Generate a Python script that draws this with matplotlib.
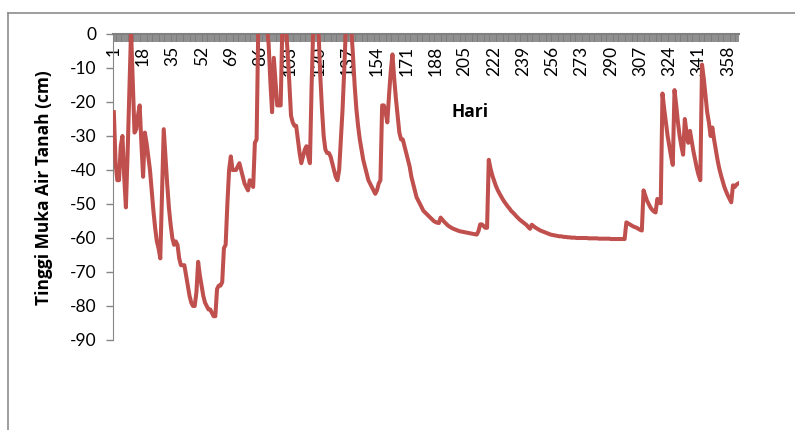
import numpy as np
import matplotlib
matplotlib.use("Agg")
import matplotlib.pyplot as plt
from matplotlib.lines import Line2D

plt.rcParams['font.family'] = ['Lato', 'DejaVu Sans']

# tinggi muka air tanah harian (cm), hari ke-1 s/d 365
tinggi = [
    -23, -38, -43, -43, -33, -30, -42, -51, -35, -17,
    1, -14, -29, -28, -24, -21, -32, -42, -29, -32,
    -36, -40, -46, -52, -57, -61, -63, -66, -47, -28,
    -36, -44, -51, -56, -60, -62, -61, -62, -66, -68,
    -68, -68, -71, -74, -77, -79, -80, -80, -76, -67,
    -71, -74, -77, -79, -80, -81, -81, -82, -83, -83,
    -75, -74, -74, -73, -63, -62, -50, -40, -36, -40,
    -40, -40, -39, -38, -40, -42, -44, -45, -46, -43,
    -44, -45, -32, -31, 3, 5, 4, 3, 3, 2,
    -3, -14, -23, -7, -14, -21, -21, -21, 3, 4,
    2, -5, -14, -24, -26, -27, -27, -31, -35, -38,
    -36, -34, -33, -36, -38, -15, 3, 4, 3, 1,
    -12, -22, -30, -34, -35, -35, -36, -38, -40, -42,
    -43, -40, -31, -22, -10, 3, 5, 5, 2, -6,
    -15, -22, -27, -31, -34, -37, -39, -41, -43, -44,
    -45, -46, -47, -46, -44, -43, -21, -21, -23, -26,
    -18, -11, -6, -13, -19, -24, -29, -31, -31, -33,
    -35, -37, -39, -42, -44, -46, -48, -49, -50, -51,
    -52, -52.5, -53, -53.5, -54, -54.5, -55, -55.3, -55.5, -55.6,
    -54, -54.6, -55.2, -55.7, -56.2, -56.6, -56.9, -57.2, -57.4, -57.6,
    -57.8, -58, -58.1, -58.2, -58.3, -58.4, -58.5, -58.6, -58.7, -58.8,
    -58.9, -59, -58, -56, -56, -56.5, -57, -57, -37, -39.5,
    -41.5, -43, -44.5, -45.7, -46.7, -47.6, -48.5, -49.3, -50, -50.7,
    -51.3, -52, -52.5, -53, -53.6, -54.1, -54.6, -55, -55.4, -55.8,
    -56.2, -56.8, -57.3, -56.1, -56.5, -56.9, -57.2, -57.5, -57.8, -58,
    -58.2, -58.4, -58.6, -58.8, -59, -59.1, -59.2, -59.3, -59.4, -59.5,
    -59.5, -59.6, -59.7, -59.7, -59.8, -59.8, -59.9, -59.9, -59.9, -60,
    -60, -60, -60, -60, -60, -60, -60.1, -60.1, -60.1, -60.1,
    -60.1, -60.1, -60.2, -60.2, -60.2, -60.2, -60.2, -60.2, -60.2, -60.3,
    -60.3, -60.3, -60.3, -60.3, -60.3, -60.3, -60.3, -60.3, -55.4, -55.7,
    -56, -56.3, -56.6, -56.8, -57, -57.3, -57.6, -57.8, -46, -47.5,
    -49, -50, -51, -51.7, -52.2, -52.5, -48.5, -49.5, -49.8, -17.5,
    -22, -26, -30, -33, -36, -38.5, -16.5, -21, -26, -30,
    -33, -35.5, -25, -29, -32, -28.5, -31.5, -34.5, -37, -39.5,
    -41.5, -43, -9, -13, -18, -23, -26, -30, -27.5, -31,
    -34, -37, -39.5, -41.5, -43.3, -45, -46.3, -47.5, -48.5, -49.5,
    -44.5, -45, -44.3, -44,
]
hari = np.arange(1, len(tinggi) + 1)
label_hari = np.arange(1, 366, 17)
y_ticks = np.arange(-90, 1, 10)

W, H = 795, 430
fig = plt.figure(figsize=(W / 100, H / 100), dpi=100)

# bingkai area grafik (kiri dan atas)
frame = dict(color='#8c8c8c', linewidth=1.2, transform=fig.transFigure)
fig.add_artist(Line2D([7.5 / W, 7.5 / W], [0, 1 - 12.5 / H], **frame))
fig.add_artist(Line2D([7.5 / W, 1], [1 - 12.5 / H, 1 - 12.5 / H], **frame))

ax = fig.add_axes([113 / W, 1 - 340 / H, (739 - 113) / W, (340 - 34) / H])

ax.plot(hari, tinggi, color='#C0504D', linewidth=2.9, zorder=5,
        solid_joinstyle='round')

ax.set_xlim(0.5, len(tinggi) + 0.5)
ax.set_ylim(-90, 0)

for s in ['top', 'right']:
    ax.spines[s].set_visible(False)
ax.spines['left'].set_color('#868686')
ax.spines['bottom'].set_position(('data', 0))
ax.spines['bottom'].set_color('#808080')
ax.spines['bottom'].set_linewidth(1.5)

ax.set_yticks(y_ticks)
ax.set_yticklabels([str(v) for v in y_ticks])
ax.tick_params(axis='y', direction='out', length=5, width=1, color='#868686',
               labelsize=12.5, pad=7)

ax.set_xticks(label_hari)
ax.set_xticklabels([str(v) for v in label_hari], rotation=90)
ax.set_xticks(hari, minor=True)
ax.tick_params(axis='x', which='both', direction='out', length=5.5, width=1.2,
               color='#7a7a7a', labelsize=12.5, pad=3)

bold = dict(family=['Open Sans', 'DejaVu Sans'], fontweight='bold', fontsize=12.5)
fig.text(44 / W, 1 - 188 / H, 'Tinggi Muka Air Tanah (cm)', rotation=90,
         ha='center', va='center', **bold)
fig.text(470 / W, 1 - 112 / H, 'Hari', ha='center', va='center', **bold)

fig.savefig('out.png', dpi=100)
